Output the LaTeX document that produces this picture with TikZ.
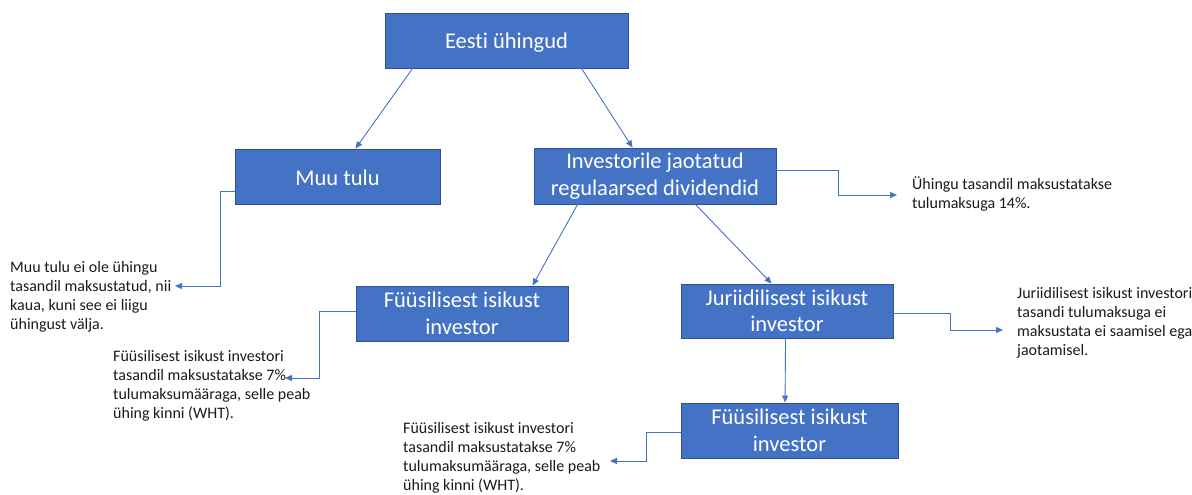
\documentclass[tikz,border=0pt]{standalone}
\usepackage{fontspec}
\setmainfont{Carlito}[Ligatures=NoCommon]
\usetikzlibrary{arrows.meta}
\definecolor{boxfill}{HTML}{4472C4}
\definecolor{boxline}{HTML}{2F528F}
\definecolor{linkcol}{HTML}{4472C4}
\definecolor{notecol}{HTML}{1A1A1A}
\tikzset{
  box/.style={draw=boxline, line width=0.9pt, fill=boxfill, text=white,
    inner sep=0pt, align=center, font=\fontsize{22.5}{26.5}\selectfont},
  oneline/.style={text height=17pt, text depth=0pt},
  conn/.style={draw=linkcol, line width=0.9pt,
    -{Triangle[length=7pt,width=6pt]}},
  note/.style={anchor=base west, inner sep=0pt, align=left, text=notecol,
    font=\fontsize{16}{19}\selectfont},
}
\begin{document}
\begin{tikzpicture}[x=1pt,y=-1pt]
\useasboundingbox (0,0) rectangle (1192,495);

% boxes
\node[box, oneline, minimum width=243, minimum height=55] (eesti) at (506.5,40.5) {Eesti ühingud};
\node[box, oneline, minimum width=205, minimum height=55] (muu) at (337.5,176.5) {Muu tulu};
\node[box, minimum width=242, minimum height=56] (inv) at (655,176) {Investorile jaotatud\\regulaarsed dividendid};
\node[box, minimum width=212, minimum height=55] (fys1) at (462,313.5) {Füüsilisest isikust\\investor};
\node[box, minimum width=212, minimum height=54] (jur) at (787,311) {Juriidilisest isikust\\investor};
\node[box, minimum width=217, minimum height=55] (fys2) at (789.5,430.5) {Füüsilisest isikust\\investor};

% notes (placed by the baseline of their last line)
\node[note] (nmuu) at (10,329) {Muu tulu ei ole ühingu\\tasandil maksustatud, nii\\kaua, kuni see ei liigu\\ühingust välja.};
\node[note] (ninv) at (912,208) {Ühingu tasandil maksustatakse\\tulumaksuga 14\%.};
\node[note] (njur) at (1017,355) {Juriidilisest isikust investori\\tasandi tulumaksuga ei\\maksustata ei saamisel ega\\jaotamisel.};
\node[note] (nfys1) at (113,418) {Füüsilisest isikust investori\\tasandil maksustatakse 7\%\\tulumaksumääraga, selle peab\\ühing kinni (WHT).};
\node[note] (nfys2) at (403,490) {Füüsilisest isikust investori\\tasandil maksustatakse 7\%\\tulumaksumääraga, selle peab\\ühing kinni (WHT).};

% arrow ends next to the notes
\coordinate (tmuu) at (175,286);
\coordinate (tinv) at (897,195);
\coordinate (tjur) at (1003,330);
\coordinate (tfys1) at (285,378);
\coordinate (tfys2) at (610,461);

% straight connectors
\draw[conn] ([xshift=28]eesti.south west) -- ([xshift=121]muu.north west);
\draw[conn] ([xshift=197]eesti.south west) -- ([xshift=99]inv.north west);
\draw[conn] ([xshift=44]inv.south west) -- ([xshift=177]fys1.north west);
\draw[conn] ([xshift=162]inv.south west) -- ([xshift=91]jur.north west);
\draw[conn] ([xshift=105]jur.south west) -- ([xshift=104.5]fys2.north west);

% elbow connectors to the notes
\draw[conn] (muu.west |- 0,191) -- ++(-14,0) |- (tmuu);
\draw[conn] (inv.east |- 0,170) -- ++(62,0) |- (tinv);
\draw[conn] (jur.east |- 0,313) -- ++(57,0) |- (tjur);
\draw[conn] (fys1.west |- 0,311) -- ++(-36,0) |- (tfys1);
\draw[conn] (fys2.west |- 0,432) -- ++(-34,0) |- (tfys2);
\end{tikzpicture}
\end{document}
